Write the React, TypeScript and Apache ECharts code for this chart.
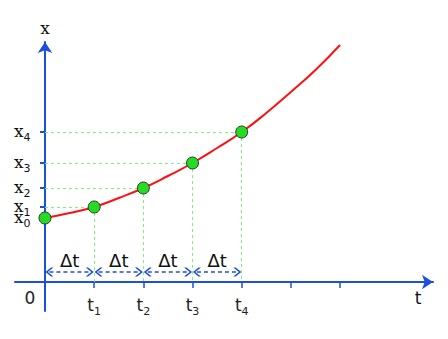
import React, { useEffect, useRef } from "react";
import * as echarts from "echarts";

const tPoints = [0, 1, 2, 3, 4];
const xPoints = [64, 75, 94, 119, 150];
const curveT = [0, 0.5, 1, 1.5, 2, 2.5, 3, 3.5, 4, 4.5, 5, 5.5, 6];
const curveX = [64, 69, 75, 84, 94, 106, 119, 134, 150, 169, 190, 212, 237];
const tTicks = [1, 2, 3, 4, 5, 6];
const deltaLabel = "Δt";
const deltaLevel = 10;

const BLUE = "#1c50dc";
const GREEN_LINE = "#80f080";
const CHEVRON = "path://M0,7 L5,0 L10,7 L10,10 L5,3 L0,10 Z";
const INSET = 0.09;

const subRich = {
  m: { fontFamily: "DejaVu Serif", fontSize: 17, color: "#111", lineHeight: 20, verticalAlign: "top" },
  s: { fontFamily: "DejaVu Sans", fontSize: 11, color: "#111", lineHeight: 12, padding: [10, 0, 0, 0], verticalAlign: "top" },
};

export default function App() {
  const ref = useRef<HTMLDivElement>(null);
  useEffect(() => {
    if (!ref.current) return;
    const chart = echarts.init(ref.current, null, { renderer: "svg" });

    const guides: any[] = [];
    for (let i = 1; i < tPoints.length; i++) {
      guides.push([{ coord: [0, xPoints[i]] }, { coord: [tPoints[i], xPoints[i]] }]);
      guides.push([{ coord: [tPoints[i], xPoints[i]] }, { coord: [tPoints[i], 0] }]);
    }
    const deltas: any[] = [];
    for (let i = 0; i < tPoints.length - 1; i++) {
      deltas.push([
        { coord: [tPoints[i] + INSET, deltaLevel] },
        { coord: [tPoints[i + 1] - INSET, deltaLevel] },
      ]);
    }

    chart.setOption({
      animation: false,
      grid: { left: 15, right: 15, top: 42, bottom: 28, containLabel: false, outerBoundsMode: "none" },
      xAxis: {
        type: "value",
        min: -0.61,
        max: 7.89,
        splitLine: { show: false },
        axisLine: {
          show: true,
          onZero: true,
          symbol: ["none", "arrow"],
          symbolSize: [11, 11],
          lineStyle: { color: BLUE, width: 2 },
        },
        axisTick: { show: true, customValues: tTicks, length: 6, lineStyle: { color: BLUE, width: 1.5 } },
        axisLabel: {
          show: true,
          customValues: tPoints,
          margin: -15,
          hideOverlap: false,
          showMinLabel: true,
          showMaxLabel: true,
          verticalAlign: "top",
          formatter: (v: number) => {
            const i = tPoints.indexOf(v);
            if (i === 0) return "{z|0}";
            return `{m|t}{s|${i}}`;
          },
          rich: {
            m: { fontFamily: "DejaVu Sans", fontSize: 17, color: "#222", lineHeight: 20, verticalAlign: "top" },
            s: { fontFamily: "DejaVu Sans", fontSize: 11, color: "#222", lineHeight: 12, padding: [10, 0, 0, 0], verticalAlign: "top" },
            z: { fontFamily: "DejaVu Sans", fontSize: 17, color: "#222", lineHeight: 4, padding: [0, 30, 0, 0] },
          },
        },
      },
      yAxis: {
        type: "value",
        min: -29,
        max: 240,
        splitLine: { show: false },
        axisLine: {
          show: true,
          onZero: true,
          symbol: ["none", "arrow"],
          symbolSize: [11, 11],
          lineStyle: { color: BLUE, width: 2 },
        },
        axisTick: { show: true, customValues: xPoints, length: 5, lineStyle: { color: BLUE, width: 2 } },
        axisLabel: { show: false },
      },
      graphic: [
        { type: "text", x: 45, y: 28, style: { text: "x", font: "17px 'DejaVu Serif'", fill: "#111", align: "center", verticalAlign: "middle" } },
        { type: "text", x: 418, y: 298, style: { text: "t", font: "17px 'DejaVu Sans'", fill: "#111", align: "center", verticalAlign: "middle" } },
      ],
      series: [
        {
          type: "line",
          data: [],
          silent: true,
          markLine: {
            silent: true,
            symbol: "none",
            animation: false,
            lineStyle: { color: GREEN_LINE, type: [3, 3], width: 1 },
            label: { show: false },
            data: guides,
          },
          z: 1,
        },
        {
          type: "scatter",
          silent: true,
          data: xPoints.map((x, i) =>
            i === 0 ? { value: [0, x], label: { offset: [0, 4] } } : { value: [0, x] }
          ),
          symbol: "circle",
          symbolSize: 1,
          itemStyle: { color: "rgba(0,0,0,0)" },
          label: {
            show: true,
            position: "left",
            distance: 14,
            color: "#111",
            opacity: 1,
            textBorderWidth: 0,
            formatter: (p: any) => `{m|x}{s|${p.dataIndex}}`,
            rich: subRich,
          },
          labelLayout: { hideOverlap: false },
          z: 1,
        },
        {
          type: "line",
          data: [],
          silent: true,
          markLine: {
            silent: true,
            symbol: [CHEVRON, CHEVRON],
            symbolSize: [9, 8],
            animation: false,
            lineStyle: { color: BLUE, type: [4, 3], width: 1.5 },
            label: {
              show: true,
              position: "insideMiddleTop",
              formatter: deltaLabel,
              fontFamily: "DejaVu Sans",
              fontSize: 18,
              color: "#111",
              distance: 3,
            },
            emphasis: { disabled: true },
            data: deltas,
          },
          z: 3,
        },
        {
          type: "line",
          data: curveT.map((t, i) => [t, curveX[i]]),
          smooth: true,
          showSymbol: false,
          lineStyle: { color: "#ff1010", width: 2 },
          z: 4,
        },
        {
          type: "scatter",
          data: tPoints.map((t, i) => [t, xPoints[i]]),
          symbolSize: 12,
          itemStyle: { color: "#22dd22", borderColor: "#333", borderWidth: 1, opacity: 1 },
          z: 5,
        },
      ],
    });
    return () => chart.dispose();
  }, []);
  return <div ref={ref} style={{ width: 448, height: 339, position: "absolute", left: 0, top: 0 }} />;
}
